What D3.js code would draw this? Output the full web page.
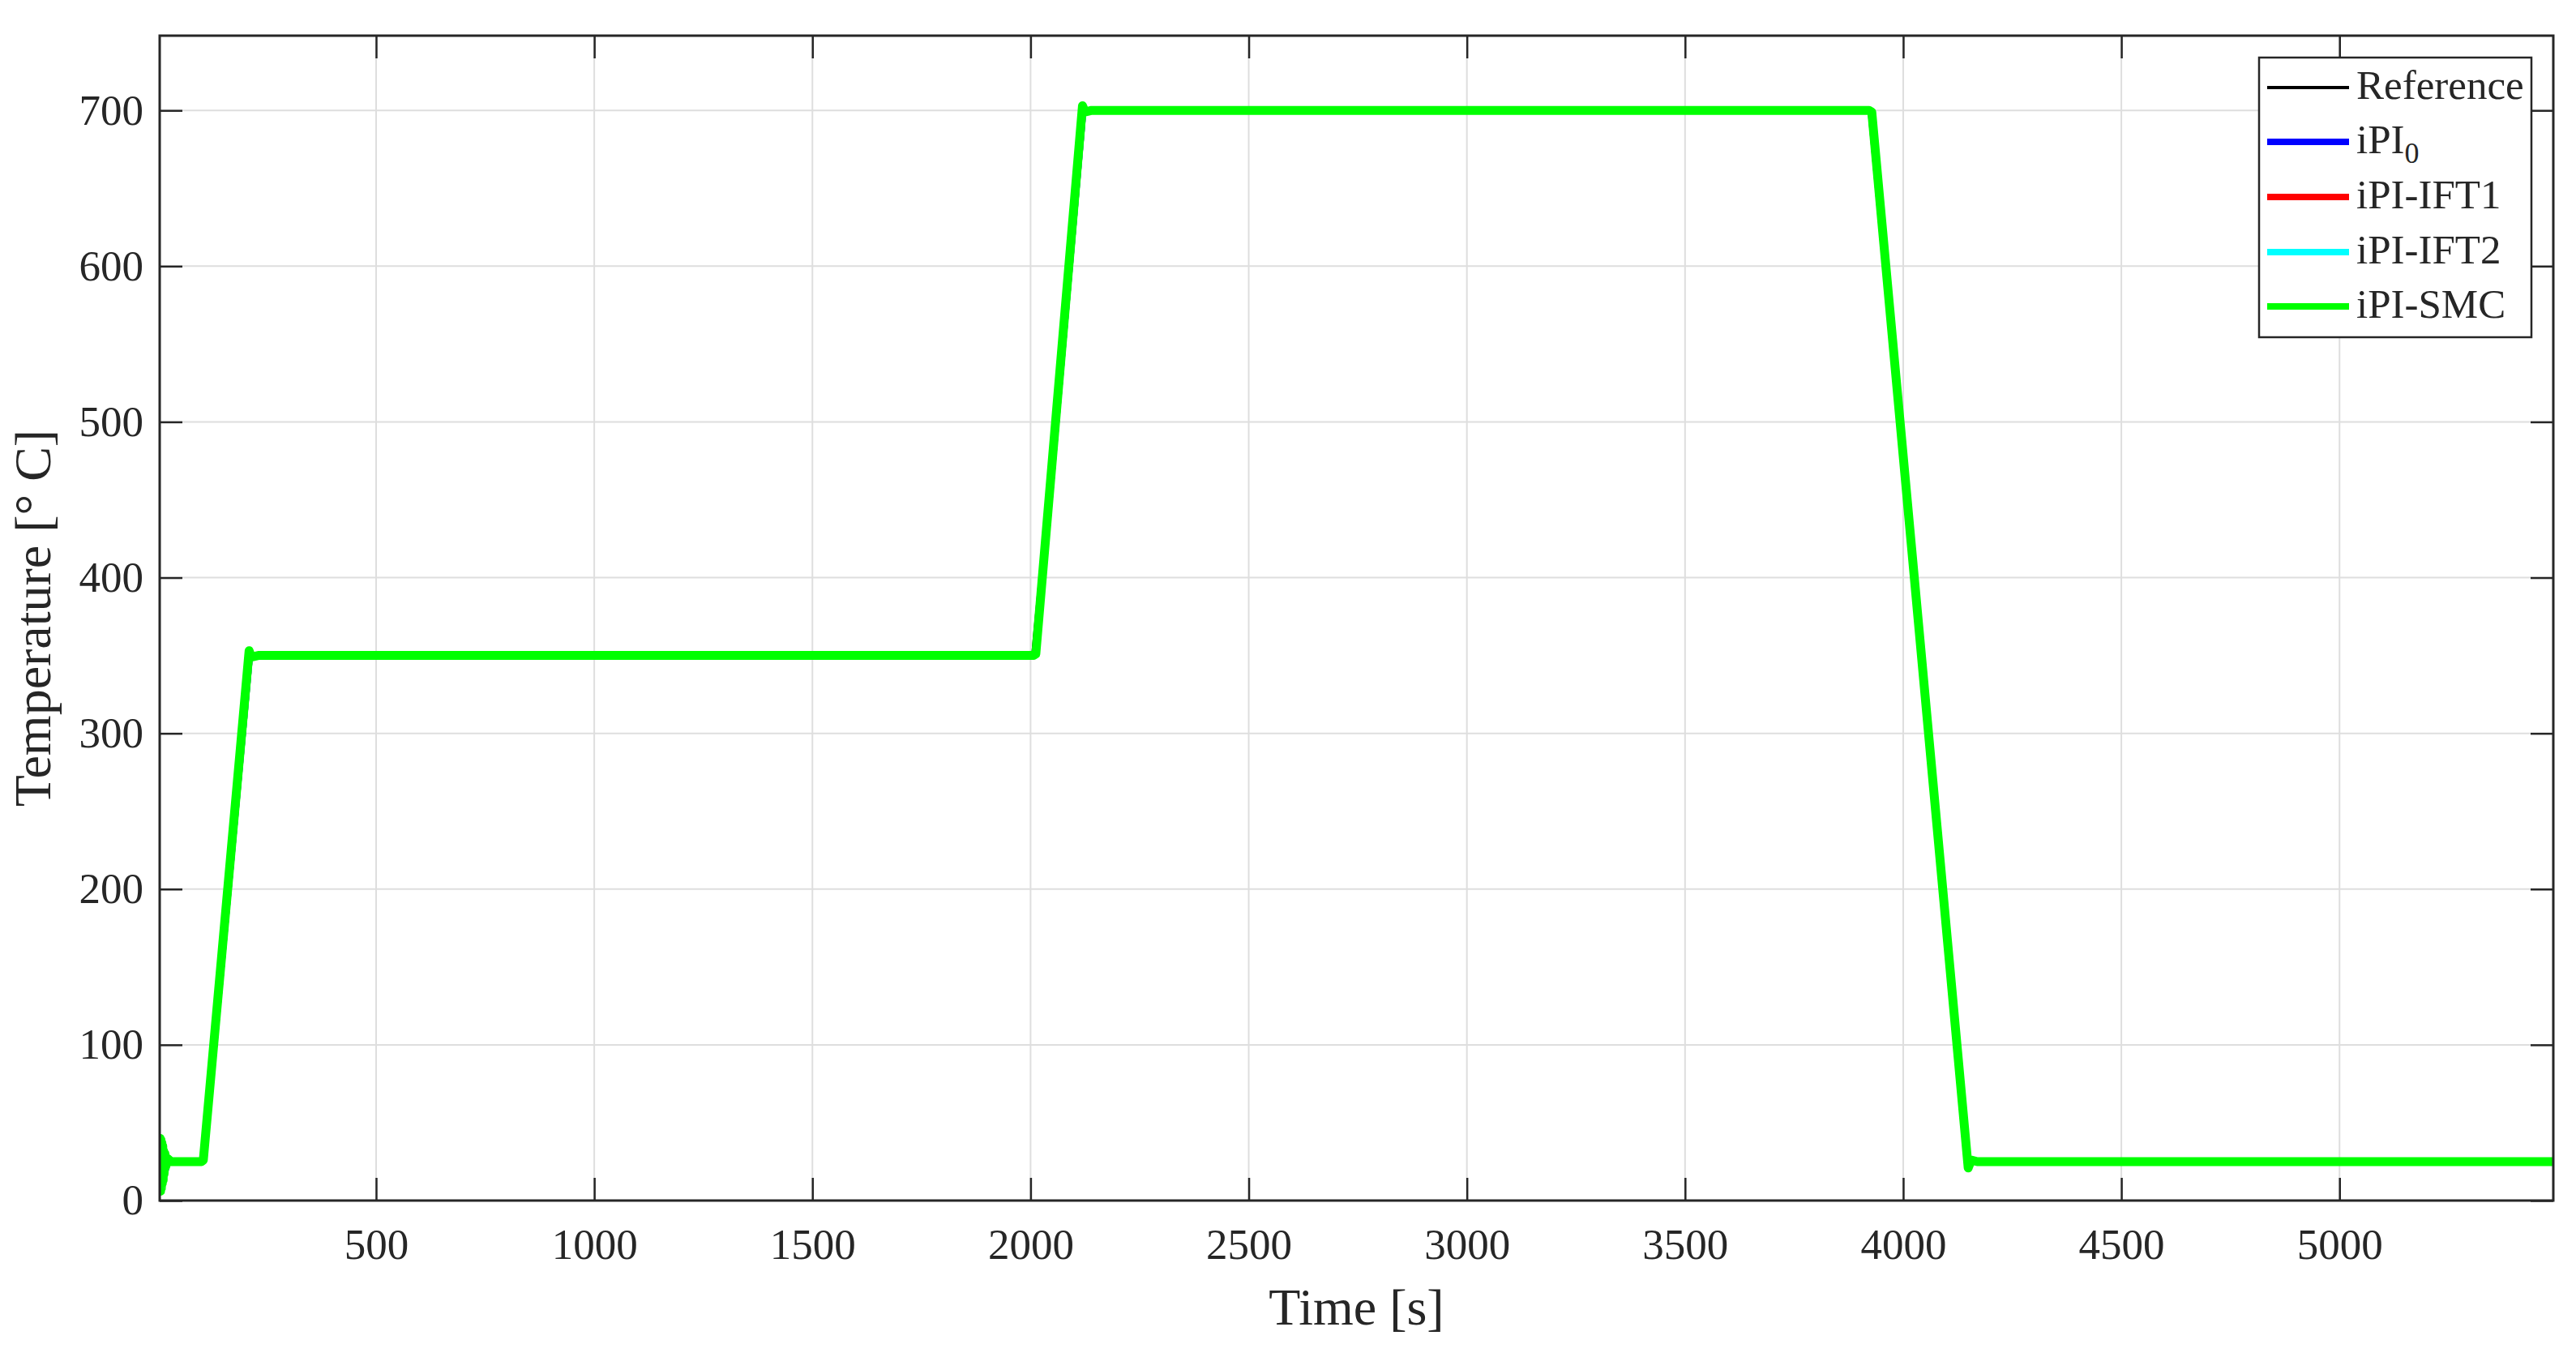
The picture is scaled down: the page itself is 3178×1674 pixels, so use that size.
<!DOCTYPE html>
<html>
<head>
<meta charset="utf-8">
<script src="https://cdn.jsdelivr.net/npm/d3@7"></script>
<style>
  html, body { margin: 0; padding: 0; background: #fff; }
  svg { display: block; }
  text { font-family: "Liberation Serif", "DejaVu Serif", serif; fill: #262626; }
</style>
</head>
<body>
<svg id="chart" width="3178" height="1674"></svg>
<script>
// ---------------- DATA ----------------
const xTicks = [500, 1000, 1500, 2000, 2500, 3000, 3500, 4000, 4500, 5000];
const yTicks = [0, 100, 200, 300, 400, 500, 600, 700];
const xDomain = [4, 5490];
const yDomain = [0, 748];

const refTime = [0, 100, 208, 2005, 2122, 3922, 4147, 5490];
const refTemp = [25, 25, 350, 350, 700, 700, 25, 25];

const pi0Time = [4, 6, 8, 10, 12, 14, 17, 20, 30, 100, 104, 210, 216, 230, 2007, 2012, 2120, 2126, 2140, 3922, 3928, 4148, 4155, 4170, 5490];
const pi0Temp = [8, 36, 10, 33, 15, 30, 20, 27, 25, 25, 26, 351, 349, 350, 350, 351, 701, 699, 700, 700, 699, 23, 26, 25, 25];

const ift1Time = [4, 6, 8, 10, 12, 14, 17, 20, 30, 100, 104, 210, 216, 230, 2007, 2012, 2120, 2126, 2140, 3922, 3928, 4148, 4155, 4170, 5490];
const ift1Temp = [8, 36, 10, 33, 15, 30, 20, 27, 25, 25, 26, 351, 349, 350, 350, 351, 701, 699, 700, 700, 699, 23, 26, 25, 25];

const ift2Time = [4, 6, 8, 10, 12, 14, 17, 20, 30, 100, 104, 210, 216, 230, 2007, 2012, 2120, 2126, 2140, 3922, 3928, 4148, 4155, 4170, 5490];
const ift2Temp = [8, 36, 10, 33, 15, 30, 20, 27, 25, 25, 26, 351, 349, 350, 350, 351, 701, 699, 700, 700, 699, 23, 26, 25, 25];

const smcTime = [4, 5, 6, 7, 8, 9, 10, 11, 12, 13, 14, 16, 18, 22, 30, 100, 104, 209, 214, 230, 2007, 2012, 2119, 2125, 2140, 3922, 3928, 4149, 4156, 4170, 5490];
const smcTemp = [5, 40, 6, 39, 8, 37, 11, 35, 13, 32, 17, 30, 22, 27, 25, 25, 26, 353, 349, 350, 350, 351, 703, 699, 700, 700, 699, 21, 26, 25, 25];

const seriesNames = ["Reference", "iPI0", "iPI-IFT1", "iPI-IFT2", "iPI-SMC"];
const seriesColors = ["#000000", "#0000ff", "#ff0000", "#00ffff", "#00ff00"];

// ---------------- LAYOUT ----------------
const W = 3178, H = 1674;
const m = { left: 197, top: 44, right: 28, bottom: 193 };
const pw = W - m.left - m.right, ph = H - m.top - m.bottom;

const svg = d3.select("#chart");
const g = svg.append("g").attr("transform", `translate(${m.left},${m.top})`);

const x = d3.scaleLinear().domain(xDomain).range([0, pw]);
const y = d3.scaleLinear().domain(yDomain).range([ph, 0]);

// grid
g.append("g").selectAll("line").data(xTicks).join("line")
  .attr("x1", d => x(d)).attr("x2", d => x(d)).attr("y1", 0).attr("y2", ph)
  .attr("stroke", "#dedede").attr("stroke-width", 2);
g.append("g").selectAll("line").data(yTicks).join("line")
  .attr("x1", 0).attr("x2", pw).attr("y1", d => y(d)).attr("y2", d => y(d))
  .attr("stroke", "#dedede").attr("stroke-width", 2);

// clip
svg.append("defs").append("clipPath").attr("id", "clip")
  .append("rect").attr("x", 0).attr("y", 0).attr("width", pw).attr("height", ph);

const seriesData = [
  refTime.map((t, i) => [t, refTemp[i]]),
  pi0Time.map((t, i) => [t, pi0Temp[i]]),
  ift1Time.map((t, i) => [t, ift1Temp[i]]),
  ift2Time.map((t, i) => [t, ift2Temp[i]]),
  smcTime.map((t, i) => [t, smcTemp[i]])
];
const widths = [4, 9, 9, 9, 11];

const line = d3.line().x(d => x(d[0])).y(d => y(d[1]));
const lines = g.append("g").attr("clip-path", "url(#clip)");
seriesData.forEach((data, i) => {
  lines.append("path").datum(data)
    .attr("d", line)
    .attr("fill", "none")
    .attr("stroke", seriesColors[i])
    .attr("stroke-width", widths[i])
    .attr("stroke-linejoin", "round")
    .attr("stroke-linecap", "butt");
});

// axes
const tickLen = 28;
const fmt = d3.format("d");
const axB = g.append("g").attr("transform", `translate(0,${ph})`)
  .call(d3.axisBottom(x).tickValues(xTicks).tickFormat(fmt).tickSizeInner(-tickLen).tickSizeOuter(0).tickPadding(34));
const axL = g.append("g")
  .call(d3.axisLeft(y).tickValues(yTicks).tickFormat(fmt).tickSizeInner(-tickLen).tickSizeOuter(0).tickPadding(20));
const axT = g.append("g")
  .call(d3.axisTop(x).tickValues(xTicks).tickSizeInner(-tickLen).tickSizeOuter(0).tickFormat(""));
const axR = g.append("g").attr("transform", `translate(${pw},0)`)
  .call(d3.axisRight(y).tickValues(yTicks).tickSizeInner(-tickLen).tickSizeOuter(0).tickFormat(""));

[axB, axL, axT, axR].forEach(a => {
  a.select(".domain").remove();
  a.selectAll(".tick line").attr("stroke", "#262626").attr("stroke-width", 2.5);
  a.selectAll("text").attr("font-size", 53).attr("fill", "#262626")
    .style("font-family", '"Liberation Serif", "DejaVu Serif", serif');
});
axB.selectAll("text").attr("dy", "0.71em");

// box
g.append("rect").attr("x", 0).attr("y", 0).attr("width", pw).attr("height", ph)
  .attr("fill", "none").attr("stroke", "#262626").attr("stroke-width", 3);

// axis titles
svg.append("text").attr("x", m.left + pw / 2).attr("y", 1634)
  .attr("text-anchor", "middle").attr("font-size", 64).text("Time [s]");
svg.append("text")
  .attr("transform", `translate(62,${m.top + ph / 2}) rotate(-90)`)
  .attr("text-anchor", "middle").attr("font-size", 64).text("Temperature [° C]");

// legend
const lg = svg.append("g");
lg.append("rect").attr("x", 2787).attr("y", 71).attr("width", 336).attr("height", 345)
  .attr("fill", "#fff").attr("stroke", "#262626").attr("stroke-width", 2.5);
const rowY = [108, 175, 243, 311, 378];
const legW = [4, 8, 8, 8, 8];
seriesNames.forEach((name, i) => {
  lg.append("line").attr("x1", 2797).attr("x2", 2898).attr("y1", rowY[i]).attr("y2", rowY[i])
    .attr("stroke", seriesColors[i]).attr("stroke-width", legW[i]);
  const t = lg.append("text").attr("x", 2907).attr("y", rowY[i] + 14).attr("font-size", 51);
  if (name === "iPI0") {
    t.append("tspan").text("iPI");
    t.append("tspan").attr("font-size", 36).attr("dy", 12).text("0");
  } else {
    t.text(name);
  }
});
</script>
</body>
</html>
